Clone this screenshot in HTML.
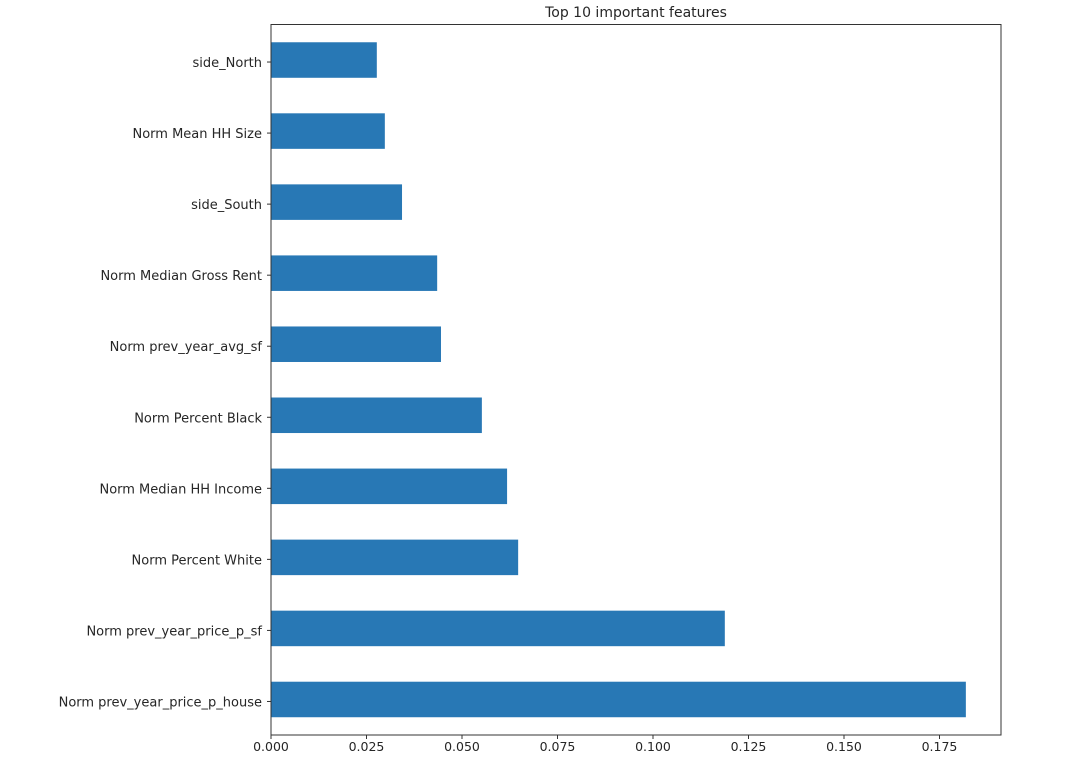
<!DOCTYPE html>
<html><head><meta charset="utf-8"><style>
body{margin:0;background:#fff;}
svg text{font-family:"DejaVu Sans","Liberation Sans",sans-serif;fill:#262626;}
</style></head><body>
<svg id="chart" width="1089" height="772" xmlns="http://www.w3.org/2000/svg">
<rect width="1089" height="772" fill="#fff"/>
<text x="636" y="17" font-size="14" text-anchor="middle">Top 10 important features</text>
<g id="bars"></g>
<g id="yticks"></g>
<g id="xticks"></g>
<rect x="271" y="24.5" width="730" height="710.5" fill="none" stroke="#333" stroke-width="1"/>
</svg>
<script>
const categories=["side_North","Norm Mean HH Size","side_South","Norm Median Gross Rent","Norm prev_year_avg_sf","Norm Percent Black","Norm Median HH Income","Norm Percent White","Norm prev_year_price_p_sf","Norm prev_year_price_p_house"];
const importances=[0.0277,0.0298,0.0343,0.0435,0.0445,0.0552,0.0618,0.0647,0.1188,0.1819];
const xTicks=[0,0.025,0.05,0.075,0.1,0.125,0.15,0.175];
const xTickLabels=["0.000","0.025","0.050","0.075","0.100","0.125","0.150","0.175"];
const NS="http://www.w3.org/2000/svg";
const x0=271,pxPerUnit=3820,top0=24.5,bottom0=735;
const band=(bottom0-top0)/categories.length;
const xs=v=>x0+v*pxPerUnit;
const yc=i=>top0+band*(i+0.5);
function mk(t,a){const e=document.createElementNS(NS,t);for(const k in a)e.setAttribute(k,a[k]);return e;}
const gb=document.getElementById('bars'),gy=document.getElementById('yticks'),gx=document.getElementById('xticks');
categories.forEach((c,i)=>{
  const r=mk('rect',{x:xs(0),y:yc(i)-band*0.25,width:xs(importances[i])-xs(0),height:band*0.5,fill:'#2878b5'});
  
  
  gb.appendChild(r);
  const tk=mk('line',{x1:x0-4,x2:x0,y1:yc(i)+2,y2:yc(i)+2,stroke:'#333'});
  
  
  gy.appendChild(tk);
  const t=mk('text',{x:x0-9,y:yc(i)+7,'font-size':13,'text-anchor':'end'});
  t.textContent=c;
  
  
  gy.appendChild(t);
});
xTicks.forEach((v,i)=>{
  const tk=mk('line',{x1:xs(v),x2:xs(v),y1:bottom0,y2:bottom0+4,stroke:'#333'});
  
  
  gx.appendChild(tk);
  const t=mk('text',{x:xs(v),y:bottom0+16,'font-size':12.5,'text-anchor':'middle'});
  t.textContent=xTickLabels[i];
  
  
  gx.appendChild(t);
});
</script>
</body></html>
